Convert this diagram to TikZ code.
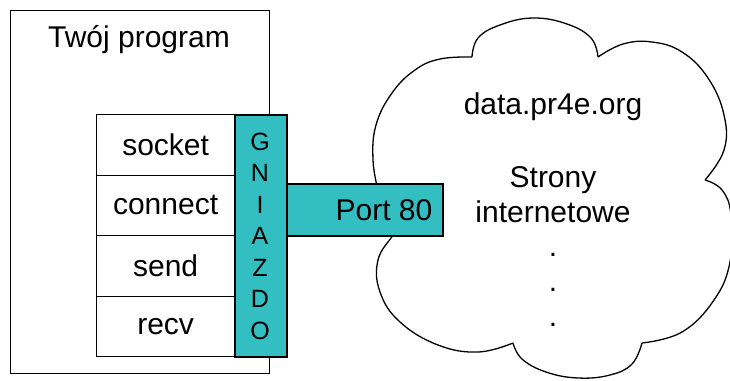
\documentclass[tikz,border=0pt]{standalone}
\usepackage{fontspec}
\setmainfont{Liberation Sans}
\definecolor{sockteal}{RGB}{51,191,194}
\begin{document}
\begin{tikzpicture}[x=1pt,y=-1pt,
  every node/.style={font=\fontsize{30}{36}\selectfont},
  frame/.style={draw, line width=1.2pt, inner sep=0pt, anchor=north west},
  rowbox/.style={frame, minimum width=138pt, minimum height=60.5pt},
  tealbox/.style={frame, fill=sockteal, line width=1.5pt},
  cloudline/.style={draw, line width=1.3pt, line join=round}]
\useasboundingbox (0,0) rectangle (730,380);
% cloud
\draw[cloudline]
  plot[smooth, tension=0.7] coordinates {(378,190) (373,160) (376,125) (392,93) (415,70) (440,59) (472,57)}
  plot[smooth, tension=0.7] coordinates {(472,57) (478,38) (500,25) (533,18) (567,24) (591,38) (598,57)}
  plot[smooth, tension=0.7] coordinates {(598,57) (623,44) (652,42) (682,52) (708,78) (724,115) (724,150) (705,180)}
  plot[smooth, tension=0.7] coordinates {(705,180) (722,190) (731,215) (730,262) (714,300) (682,332) (642,343)}
  plot[smooth, tension=0.7] coordinates {(642,343) (632,364) (610,375) (578,378) (546,372) (522,359) (513,343)}
  plot[smooth, tension=0.7] coordinates {(513,343) (478,352) (438,345) (400,322) (380,292) (378,260) (393,235) (396,228)};
% program box
\node[frame, minimum width=259pt, minimum height=363pt] (prog) at (10,10) {};
\node (title) at (139,40) {Twój program};
% rows
\node[rowbox] (r1) at (96,114) {};
\node[rowbox] (r2) at (96,174.5) {};
\node[rowbox] (r3) at (96,235) {};
\node[rowbox] (r4) at (96,295.5) {};
\node (t1) at (r1.center) {socket};
\node (t2) at (r2.center) {connect};
\node (t3) at (r3.center) {send};
\node (t4) at (r4.center) {recv};
% socket column
\node[tealbox, minimum width=52pt, minimum height=242pt] (sock) at (234,114) {};
\node[align=center, font=\fontsize{25}{31.5}\selectfont] (gn) at (260,236) {G\\N\\I\\A\\Z\\D\\O};
% port
\node[tealbox, minimum width=156pt, minimum height=52pt] (port) at (286,183) {};
\node[anchor=east, inner sep=0pt] (porttxt) at ([xshift=-11pt]port.east) {Port 80};
% cloud texts
\node (dom) at (553,107) {data.pr4e.org};
\node[align=center, font=\fontsize{30}{35}\selectfont] (str) at (553,195) {Strony\\internetowe};
\node[inner sep=0pt] (d1) at (553,255) {.};
\node[inner sep=0pt] (d2) at (553,290) {.};
\node[inner sep=0pt] (d3) at (553,325) {.};
\end{tikzpicture}
\end{document}
